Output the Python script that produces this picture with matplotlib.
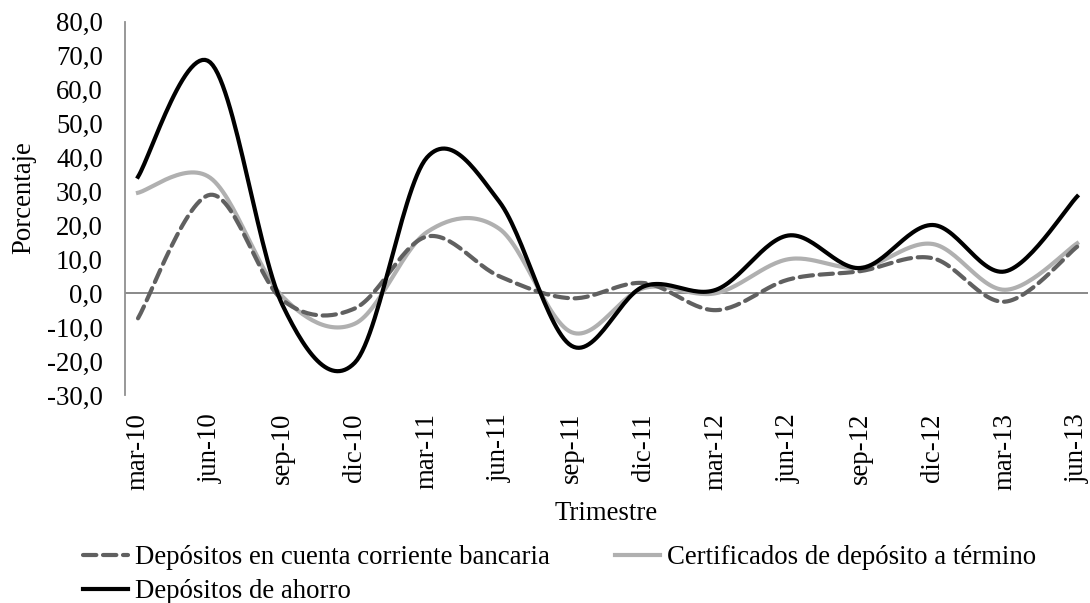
import numpy as np
import matplotlib
matplotlib.use("Agg")
import matplotlib.pyplot as plt
import matplotlib.ticker as mticker

# datos (porcentaje, variación)
trimestres = ["mar-10", "jun-10", "sep-10", "dic-10", "mar-11", "jun-11", "sep-11",
              "dic-11", "mar-12", "jun-12", "sep-12", "dic-12", "mar-13", "jun-13"]
cuenta_corriente = [-7.4, 29.0, -2.0, -4.5, 16.7, 5.0, -1.5, 3.0, -5.0, 4.0, 6.5, 10.3, -2.5, 13.7]
certificados = [29.6, 34.0, -1.0, -9.0, 18.0, 19.0, -11.5, 1.5, 0.0, 10.0, 7.5, 14.5, 1.0, 14.7]
ahorro = [34.3, 68.0, -3.5, -20.5, 40.0, 27.0, -15.5, 2.0, 1.0, 17.0, 7.4, 20.1, 6.4, 28.5]


def suavizar(y, n=30):
    # curva tipo Excel (Bezier con tangentes Catmull-Rom)
    x = np.arange(len(y), dtype=float)
    y = np.asarray(y, dtype=float)
    px, py = [], []
    t = np.linspace(0, 1, n)
    for i in range(len(y) - 1):
        i0, i3 = max(i - 1, 0), min(i + 2, len(y) - 1)
        p0 = np.array([x[i], y[i]])
        p3 = np.array([x[i + 1], y[i + 1]])
        c1 = p0 + (np.array([x[i + 1], y[i + 1]]) - np.array([x[i0], y[i0]])) / 6
        c2 = p3 - (np.array([x[i3], y[i3]]) - np.array([x[i], y[i]])) / 6
        b = ((1 - t) ** 3)[:, None] * p0 + (3 * (1 - t) ** 2 * t)[:, None] * c1 \
            + (3 * (1 - t) * t ** 2)[:, None] * c2 + (t ** 3)[:, None] * p3
        px.extend(b[:, 0])
        py.extend(b[:, 1])
    return np.array(px), np.array(py)


plt.rcParams["font.family"] = ["Liberation Serif", "DejaVu Serif"]
fs = 19.3

fig = plt.figure(figsize=(10.9, 6.03), dpi=100)
ax = fig.add_axes([125 / 1090, 1 - 395 / 603, (1088 - 125) / 1090, (395 - 21.7) / 603])

ax.axhline(0, color="#808080", lw=1.3, zorder=1)

x1, y1 = suavizar(cuenta_corriente)
ax.plot(x1, y1, color="#606060", lw=3, ls=(0, (3.2, 1.6)), dash_capstyle="round",
        label="Depósitos en cuenta corriente bancaria", zorder=3)
x2, y2 = suavizar(certificados)
ax.plot(x2, y2, color="#b0b0b0", lw=3, label="Certificados de depósito a término", zorder=2)
x3, y3 = suavizar(ahorro)
ax.plot(x3, y3, color="black", lw=3, label="Depósitos de ahorro", zorder=4)

ax.set_ylim(-30, 80)
ax.set_xlim(-0.18, 13.15)
ax.set_yticks(np.arange(-30, 81, 10))
ax.yaxis.set_major_formatter(mticker.FuncFormatter(lambda v, _: f"{v:.1f}".replace(".", ",")))
ax.set_xticks(range(len(trimestres)))
ax.set_xticklabels(trimestres, rotation=90)
ax.tick_params(axis="both", length=0, labelsize=fs)
ax.tick_params(axis="y", pad=16)
ax.tick_params(axis="x", pad=13)

for s in ["top", "right", "bottom"]:
    ax.spines[s].set_visible(False)
ax.spines["left"].set_color("#909090")
ax.spines["left"].set_linewidth(1.3)

ax.set_xlabel("Trimestre", fontsize=fs, labelpad=8)
ax.set_ylabel("Porcentaje", fontsize=fs)
ax.yaxis.set_label_coords(-0.092, 0.528)

h, l = ax.get_legend_handles_labels()
fig.legend([h[0], h[2], h[1]], [l[0], l[2], l[1]], ncol=2, loc="upper left",
           bbox_to_anchor=(70 / 1090, 1 - 532 / 603), frameon=False, fontsize=fs,
           borderpad=0, handlelength=1.68, handletextpad=0.26, columnspacing=2.4,
           labelspacing=0.33)

fig.savefig("out.png", dpi=100)
